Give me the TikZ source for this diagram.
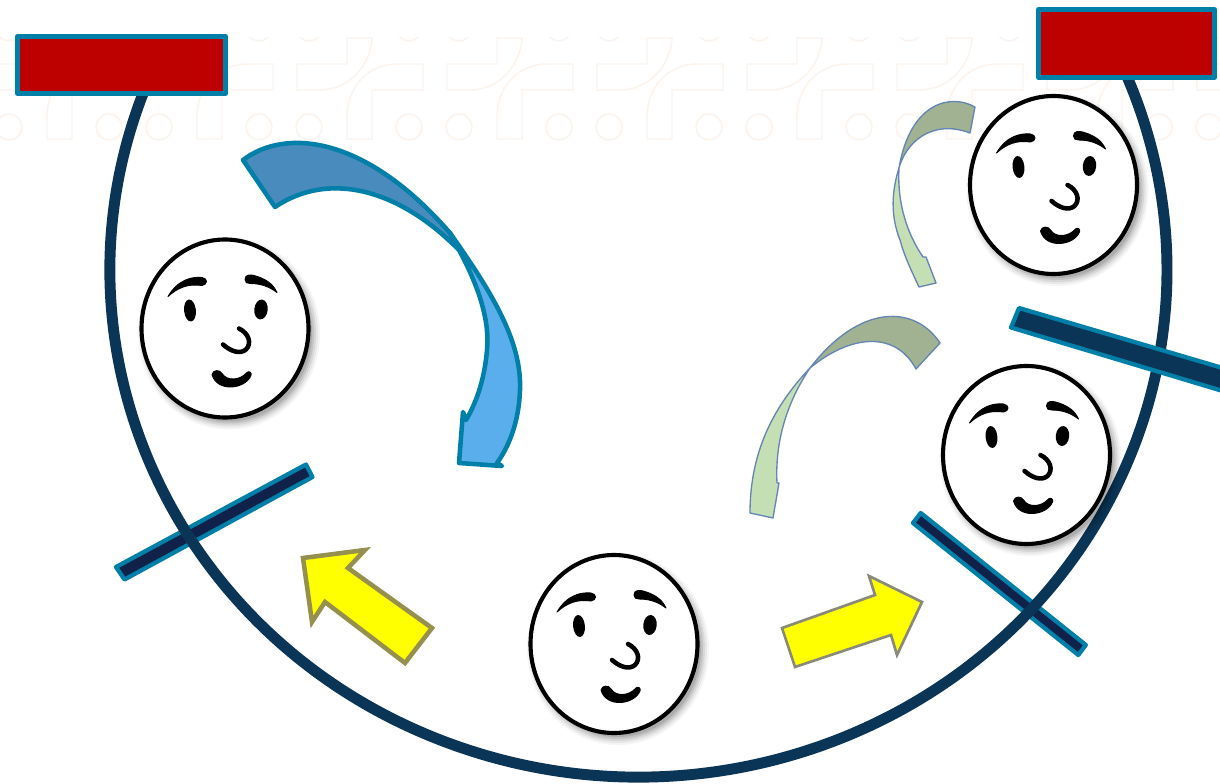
\documentclass[tikz,border=0pt]{standalone}
\usepackage{tikz}
\definecolor{rimblue}{HTML}{0A3556}
\definecolor{edgeteal}{HTML}{007FA8}
\definecolor{barnavy}{HTML}{10214A}
\definecolor{signred}{HTML}{BD0000}
\definecolor{bandblue}{HTML}{4A8BBD}
\definecolor{skyblue}{HTML}{5AAEEC}
\definecolor{bandgreen}{HTML}{A0B292}
\definecolor{palegreen}{HTML}{C5DFB5}
\definecolor{thinblue}{HTML}{6585B5}
\definecolor{olivegold}{HTML}{96904F}
\definecolor{arrowgray}{HTML}{8A8A7A}
\definecolor{arrowyellow}{HTML}{FFFF00}
\definecolor{faintline}{HTML}{FBF3EC}

\tikzset{
  facemark/.style={fill=black,draw=black,line width=0.7pt,line join=round},
  pics/face/.style={code={
    % soft shadow under the head
    \foreach \grow/\shade in {9/0.04,7/0.05,5/0.07,3/0.09,1/0.11}
      \fill[black,opacity=\shade] (4,5) ellipse [x radius=82+\grow, y radius=87+\grow];
    \draw[black,line width=3.1pt,fill=white] (0,0) ellipse [x radius=83.5, y radius=89];
    \path[facemark] (-57,-32) .. controls (-47,-49) and (-33,-52) .. (-23,-51)
      .. controls (-17,-50) and (-17,-44) .. (-23,-43) .. controls (-37,-45) and (-47,-41) .. cycle;
    \path[facemark] (20,-49) .. controls (20,-54) and (25,-54) .. (29,-53)
      .. controls (40,-50) and (48,-45) .. (52,-36) .. controls (43,-43) and (34,-45) .. (25,-45)
      .. controls (22,-45) and (20,-46) .. cycle;
    \fill[black,rotate around={6:(-35,-18)}] (-35,-18) ellipse [x radius=5.9, y radius=11];
    \fill[black,rotate around={-6:(36,-19)}] (36,-19) ellipse [x radius=6.7, y radius=10];
    \draw[black,line width=3.4pt,line cap=round] (-2,16) .. controls (6,23) and (15,26) .. (21,21)
      .. controls (27,15) and (24,5) .. (14,0);
    \path[facemark] (-13,46) .. controls (-12,41) and (-5,41) .. (-3,45)
      .. controls (2,53) and (15,52) .. (22,44) .. controls (24,42) and (27,44) .. (26,47)
      .. controls (20,61) and (-8,64) .. cycle;
  }},
  pics/tile/.style={code={
    % one period of the faint backdrop
    \draw[faintline,line width=1.1pt] (347,139) -- (347,117) .. controls (347,85) and (370,64) .. (397,64)
      -- (423,64) -- (423,90) -- (372,90) -- (372,139) -- cycle;
    \draw[faintline,line width=1.1pt] (297,64) -- (347,64) -- (347,38) -- (372,38)
      .. controls (370,70) and (345,90) .. (320,90) -- (297,90) -- cycle;
    \draw[faintline,line width=1.1pt] (259,127) circle [radius=13];
    \draw[faintline,line width=1.1pt] (309,127) circle [radius=13];
    \draw[faintline,line width=1.1pt] (259,28) circle [radius=13];
    \draw[faintline,line width=1.1pt] (309,28) circle [radius=13];
  }}
}

\begin{document}
\begin{tikzpicture}[
    x=0.75pt,y=-0.75pt,
    rim/.style={draw=rimblue,line width=8.2pt},
    barshape/.style={draw=edgeteal,line width=3.2pt,line join=round,fill=barnavy},
    redsign/.style={draw=edgeteal,line width=3.75pt,line join=round,fill=signred},
    bluewrap/.style={draw=edgeteal,line width=3.4pt,line join=round},
    greenwrap/.style={draw=thinblue,line width=1pt,line join=round},
    goldarrow/.style={draw=olivegold,line width=3.4pt,fill=arrowyellow},
    grayarrow/.style={draw=arrowgray,line width=2pt,fill=arrowyellow}
  ]
  \clip (0,0) rectangle (1220,784);
  \fill[white] (0,0) rectangle (1220,784);

  % backdrop
  \begin{scope}
    \clip (0,38) rectangle (1220,150);
    \foreach \k in {-2,...,6}
      \pic at (150*\k,0) {tile};
  \end{scope}

  % bars behind the rim
  \draw[barshape] (306,464.5) -- (312.5,477) -- (124.5,579.5) -- (116,567) -- cycle;
  \draw[barshape] (920.7,513) -- (913,523) -- (1078.3,655) -- (1085.8,645) -- cycle;

  % rim
  \draw[rim] (145.1,88.3) arc [start angle=201,end angle=-23,x radius=528.5,y radius=507];

  \draw[barshape,fill=rimblue] (1019,308) -- (1226,369) -- (1226,392) -- (1011,327.5) -- cycle;
  \draw[redsign] (17.5,36.5) rectangle (225.5,93.5);
  \draw[redsign] (1038.5,9.5) rectangle (1214.5,77.5);

  % blue bent arrow
  \draw[bluewrap,fill=bandblue] (243,160) .. controls (285,128) and (365,135) .. (450,233)
    -- (459,250) .. controls (400,190) and (330,170) .. (275,207) -- cycle;
  \draw[bluewrap,fill=skyblue] (450,233) .. controls (490,290) and (522,340) .. (520,390)
    .. controls (519,420) and (510,445) .. (497,463) -- (502,466) -- (459,463) -- (463,412) -- (466,420)
    .. controls (478,400) and (485,375) .. (487,350) .. controls (490,320) and (478,285) .. (459,250) -- cycle;

  % green bent arrows
  \draw[greenwrap,fill=palegreen] (899,168) .. controls (892,190) and (890,215) .. (900,240)
    .. controls (905,258) and (912,272) .. (919,287) -- (936,283) -- (926,257) -- (923,257)
    .. controls (908,235) and (897,205) .. (899,168) -- cycle;
  \draw[greenwrap,fill=bandgreen] (975,107) .. controls (950,93) and (910,103) .. (899,168)
    .. controls (905,145) and (930,118) .. (970,133) -- cycle;
  \draw[greenwrap,fill=palegreen] (810,368) .. controls (775,405) and (750,450) .. (750,513)
    -- (773,518) -- (779,483) -- (777,483) .. controls (775,445) and (785,405) .. (810,368) -- cycle;
  \draw[greenwrap,fill=bandgreen] (940,343) .. controls (915,305) and (860,303) .. (810,368)
    .. controls (850,335) and (895,330) .. (916,369) -- cycle;

  % yellow arrows
  \draw[goldarrow] (303,558) -- (365,550) -- (348,568) -- (432,628) -- (405,663) -- (325,602) -- (312,622) -- cycle;
  \draw[grayarrow] (782,628) -- (875,595) -- (869,576) -- (922,602) -- (897,655) -- (891,635) -- (795,667) -- cycle;

  % heads
  \pic at (225,328.5) {face};
  \pic at (1053.5,185) {face};
  \pic at (1026.5,455) {face};
  \pic at (614,644) {face};
\end{tikzpicture}
\end{document}
